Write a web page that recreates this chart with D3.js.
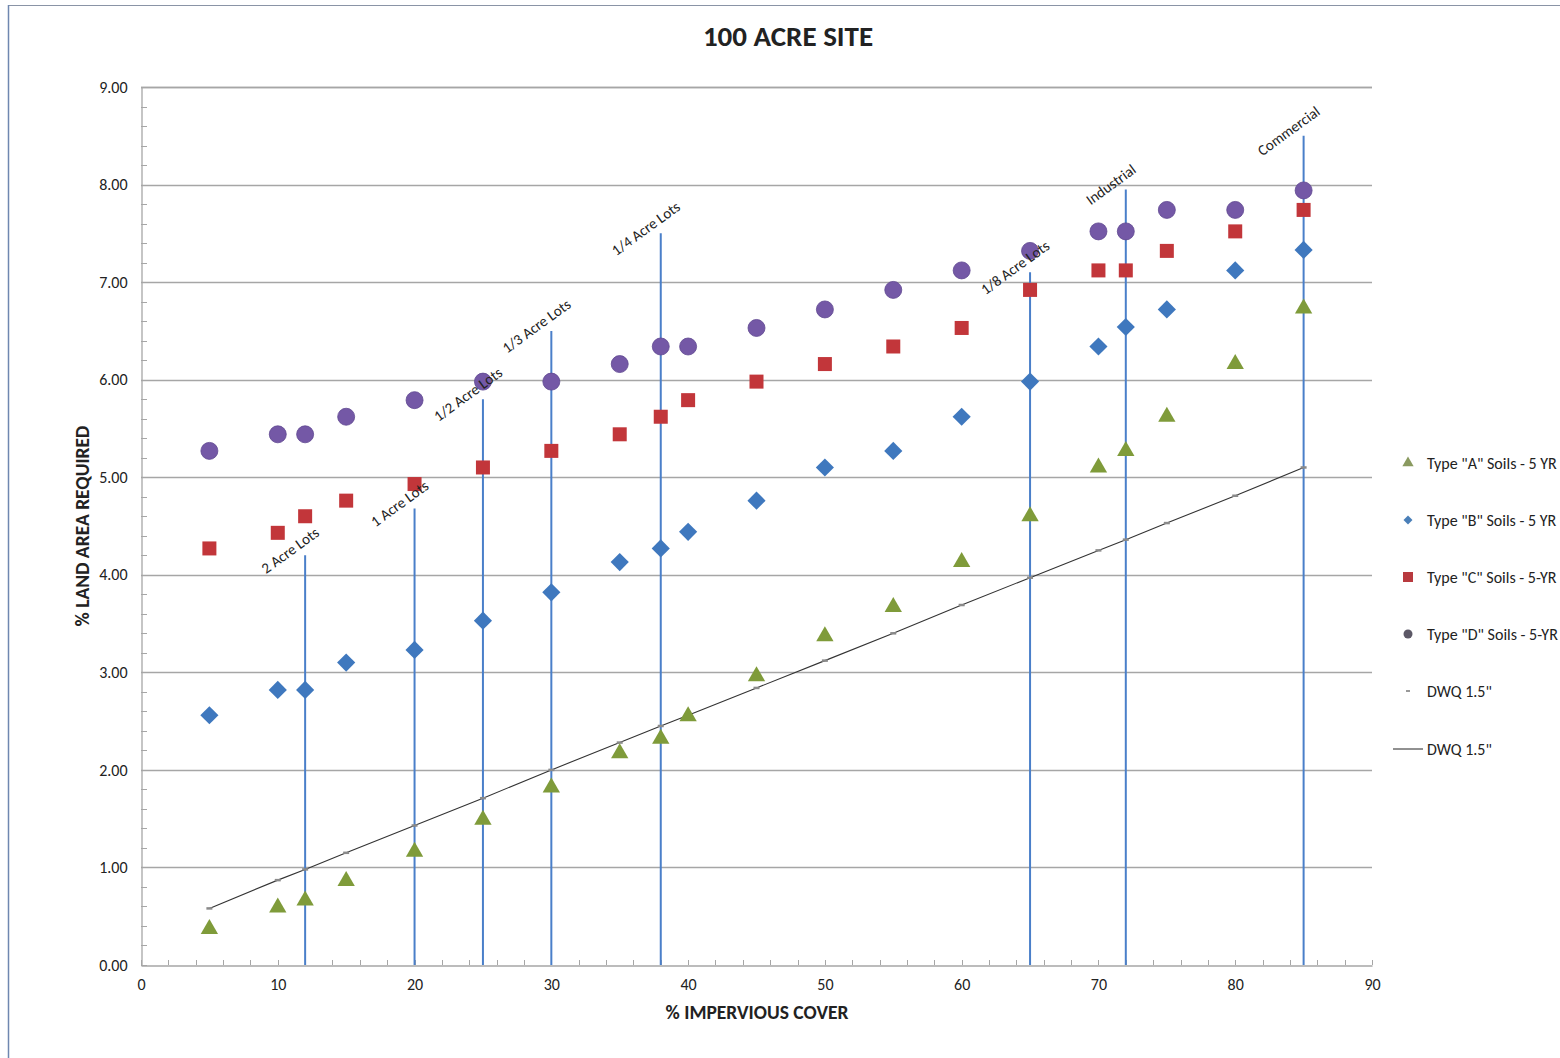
<!DOCTYPE html>
<html>
<head>
<meta charset="utf-8">
<script src="https://cdn.jsdelivr.net/npm/d3@7"></script>
<style>
  html, body { margin: 0; padding: 0; background: #fff; }
  svg { display: block; }
  text { font-family: Carlito, Lato, "Open Sans", sans-serif; fill: #222; }
</style>
</head>
<body>
<svg id="chart" width="1560" height="1058"></svg>
<script>
// % impervious cover for each scenario
const impervious = [5, 10, 12, 15, 20, 25, 30, 35, 38, 40, 45, 50, 55, 60, 65, 70, 72, 75, 80, 85];

// % land area required, by hydrologic soil group (5-yr storm)
const soilA = [0.37, 0.59, 0.66, 0.86, 1.16, 1.49, 1.82, 2.17, 2.32, 2.55, 2.96, 3.37, 3.67, 4.13, 4.60, 5.10, 5.27, 5.62, 6.16, 6.73];
const soilB = [2.56, 2.82, 2.82, 3.10, 3.23, 3.53, 3.82, 4.13, 4.27, 4.44, 4.76, 5.10, 5.27, 5.62, 5.98, 6.34, 6.54, 6.72, 7.12, 7.33];
const soilC = [4.27, 4.43, 4.60, 4.76, 4.93, 5.10, 5.27, 5.44, 5.62, 5.79, 5.98, 6.16, 6.34, 6.53, 6.92, 7.12, 7.12, 7.32, 7.52, 7.74];
const soilD = [5.27, 5.44, 5.44, 5.62, 5.79, 5.98, 5.98, 6.16, 6.34, 6.34, 6.53, 6.72, 6.92, 7.12, 7.32, 7.52, 7.52, 7.74, 7.74, 7.94];

// DWQ 1.5" requirement
const dwq = [0.58, 0.87, 0.98, 1.15, 1.43, 1.71, 2.00, 2.28, 2.45, 2.56, 2.84, 3.12, 3.40, 3.69, 3.97, 4.25, 4.36, 4.53, 4.81, 5.10];

// Land-use reference lines: position, height and label
const landUseX = [12, 20, 25, 30, 38, 65, 72, 85];
const landUseTop = [4.2, 4.68, 5.8, 6.5, 7.5, 7.1, 7.95, 8.5];
const landUseLabel = ["2 Acre Lots", "1 Acre Lots", "1/2 Acre Lots", "1/3 Acre Lots", "1/4 Acre Lots", "1/8 Acre Lots", "Industrial", "Commercial"];

const xTicks = [0, 10, 20, 30, 40, 50, 60, 70, 80, 90];
const yTicks = [0, 1, 2, 3, 4, 5, 6, 7, 8, 9];

const legendLabels = ['Type "A" Soils - 5 YR', 'Type "B" Soils - 5 YR', 'Type "C" Soils - 5-YR', 'Type "D" Soils - 5-YR', 'DWQ 1.5"', 'DWQ 1.5"'];

const colA = "#7f9b3a", colB = "#3f78be", colC = "#c2363a", colD = "#7458a6";
const lineBlue = "#4a7fc9";

const svg = d3.select("#chart");

// outer frame
svg.append("line").attr("x1", 8).attr("x2", 1560).attr("y1", 5.5).attr("y2", 5.5)
  .attr("stroke", "#8a94a6").attr("stroke-width", 1.2);
svg.append("line").attr("x1", 8.5).attr("x2", 8.5).attr("y1", 5).attr("y2", 1058)
  .attr("stroke", "#6f87b0").attr("stroke-width", 1.5);

const plotL = 141, plotR = 1372, plotT = 87, plotB = 965;
const x = d3.scaleLinear().domain([0, 90]).range([plotL, plotR]);
const y = d3.scaleLinear().domain([0, 9]).range([plotB, plotT]);

// gridlines
svg.append("g").selectAll("line").data(yTicks.filter(d => d > 0)).join("line")
  .attr("x1", plotL).attr("x2", plotR)
  .attr("y1", d => Math.round(y(d)) + 0.5).attr("y2", d => Math.round(y(d)) + 0.5)
  .attr("stroke", "#a6a6a6").attr("stroke-width", 1.3);

// y axis with inner minor ticks
const yAxis = svg.append("g").attr("transform", `translate(${plotL + 0.5},0)`)
  .call(d3.axisLeft(y).tickValues(yTicks).tickFormat(d3.format(".2f")).tickSize(0).tickPadding(14));
yAxis.select(".domain").attr("stroke", "#a6a6a6").attr("stroke-width", 1.3);
yAxis.selectAll("text").attr("font-size", 16).attr("fill", "#333")
  .style("font-family", "Carlito, Lato, sans-serif");
svg.append("g").selectAll("line").data(d3.range(0, 45).map(i => i * 0.2)).join("line")
  .attr("x1", plotL).attr("x2", plotL + 6)
  .attr("y1", d => Math.round(y(d)) + 0.5).attr("y2", d => Math.round(y(d)) + 0.5)
  .attr("stroke", "#a6a6a6");

// x axis with inner minor ticks
const xAxis = svg.append("g").attr("transform", `translate(0,${plotB + 0.5})`)
  .call(d3.axisBottom(x).tickValues(xTicks).tickSize(0).tickPadding(13));
xAxis.select(".domain").attr("stroke", "#a6a6a6").attr("stroke-width", 1.3);
xAxis.selectAll("text").attr("font-size", 16).attr("fill", "#333")
  .style("font-family", "Carlito, Lato, sans-serif");
svg.append("g").selectAll("line").data(d3.range(0, 46).map(i => i * 2)).join("line")
  .attr("x1", d => Math.round(x(d)) + 0.5).attr("x2", d => Math.round(x(d)) + 0.5)
  .attr("y1", plotB).attr("y2", plotB - 5)
  .attr("stroke", "#a6a6a6");

// top edge of plot area
svg.append("line").attr("x1", plotL).attr("x2", plotR).attr("y1", plotT + 0.5).attr("y2", plotT + 0.5)
  .attr("stroke", "#a6a6a6").attr("stroke-width", 1.3);

// title and axis titles
svg.append("text").attr("x", 788).attr("y", 46).attr("text-anchor", "middle")
  .attr("font-size", 29).attr("font-weight", "bold").text("100 ACRE SITE");
svg.append("text").attr("x", 757).attr("y", 1019).attr("text-anchor", "middle")
  .attr("font-size", 19.5).attr("font-weight", "bold").text("% IMPERVIOUS COVER");
svg.append("text").attr("transform", "translate(89,526) rotate(-90)").attr("text-anchor", "middle")
  .attr("font-size", 19.5).attr("font-weight", "bold").text("% LAND AREA REQUIRED");

// land-use reference lines
const lu = landUseX.map((v, i) => ({ x: v, top: landUseTop[i], label: landUseLabel[i] }));
svg.append("g").selectAll("line").data(lu).join("line")
  .attr("x1", d => x(d.x)).attr("x2", d => x(d.x))
  .attr("y1", d => y(d.top)).attr("y2", plotB)
  .attr("stroke", lineBlue).attr("stroke-width", 2);

// DWQ line
const rows = impervious.map((v, i) => ({ x: v, a: soilA[i], b: soilB[i], c: soilC[i], d: soilD[i], q: dwq[i] }));
svg.append("path").datum(rows)
  .attr("d", d3.line().x(d => x(d.x)).y(d => y(d.q)))
  .attr("fill", "none").attr("stroke", "#333").attr("stroke-width", 1.1);
svg.append("g").selectAll("line").data(rows).join("line")
  .attr("x1", d => x(d.x) - 3).attr("x2", d => x(d.x) + 3)
  .attr("y1", d => y(d.q)).attr("y2", d => y(d.q))
  .attr("stroke", "#8a8a8a").attr("stroke-width", 2.5);

// soil series markers
const sym = (type, size) => d3.symbol().type(type).size(size)();
svg.append("g").selectAll("circle").data(rows).join("circle")
  .attr("cx", d => x(d.x)).attr("cy", d => y(d.d)).attr("r", 8.5)
  .attr("fill", colD).attr("stroke", "#5f4890").attr("stroke-width", 0.8);
svg.append("g").selectAll("rect").data(rows).join("rect")
  .attr("x", d => x(d.x) - 7).attr("y", d => y(d.c) - 7).attr("width", 14).attr("height", 14)
  .attr("fill", colC);
svg.append("g").selectAll("path").data(rows).join("path")
  .attr("transform", d => `translate(${x(d.x)},${y(d.b)}) rotate(45)`)
  .attr("d", sym(d3.symbolSquare, 165)).attr("fill", colB);
svg.append("g").selectAll("path").data(rows).join("path")
  .attr("transform", d => `translate(${x(d.x)},${y(d.a)})`)
  .attr("d", sym(d3.symbolTriangle, 130)).attr("fill", colA);

// land-use labels, angled
svg.append("g").selectAll("text").data(lu).join("text")
  .attr("transform", d => `translate(${x(d.x) - 15},${y(d.top) - 5}) rotate(-36)`)
  .attr("text-anchor", "middle").attr("dy", "0.35em")
  .attr("font-size", 15).text(d => d.label);

// legend
const legY = [463, 520, 577, 634, 691, 749];
const leg = svg.append("g");
leg.append("path").attr("transform", `translate(1408,${legY[0]})`)
  .attr("d", sym(d3.symbolTriangle, 55)).attr("fill", "#8a9a60");
leg.append("path").attr("transform", `translate(1408,${legY[1]}) rotate(45)`)
  .attr("d", sym(d3.symbolSquare, 40)).attr("fill", "#4a7fb8");
leg.append("rect").attr("x", 1403).attr("y", legY[2] - 5).attr("width", 10).attr("height", 10).attr("fill", "#b83a3f");
leg.append("circle").attr("cx", 1408).attr("cy", legY[3]).attr("r", 4.5).attr("fill", "#5c5866");
leg.append("line").attr("x1", 1406).attr("x2", 1410).attr("y1", legY[4]).attr("y2", legY[4])
  .attr("stroke", "#999").attr("stroke-width", 2);
leg.append("line").attr("x1", 1393).attr("x2", 1423).attr("y1", legY[5]).attr("y2", legY[5])
  .attr("stroke", "#222").attr("stroke-width", 1);
leg.selectAll("text").data(legendLabels).join("text")
  .attr("x", 1427).attr("y", (d, i) => legY[i]).attr("dy", "0.35em")
  .attr("font-size", 16).text(d => d);
</script>
</body>
</html>
